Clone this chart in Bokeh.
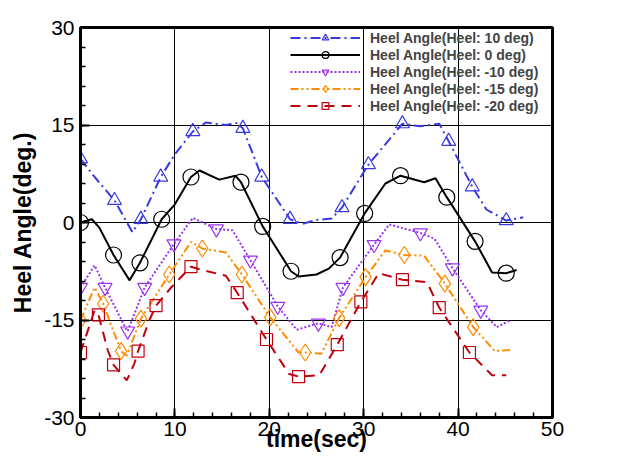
from bokeh.plotting import figure
from bokeh.models import Range1d, FixedTicker, CustomJSTickFormatter
from bokeh.embed import file_html
from bokeh.resources import INLINE

# ---- data ----
x_ticks = [0, 10, 20, 30, 40, 50]
y_ticks = [-30, -15, 0, 15, 30]

labels = ["Heel Angle(Heel: 10 deg)", "Heel Angle(Heel: 0 deg)", "Heel Angle(Heel: -10 deg)",
          "Heel Angle(Heel: -15 deg)", "Heel Angle(Heel: -20 deg)"]

t_h10 = [0, 1.5, 3.6, 5.5, 6.4, 8.5, 10, 11.9, 13.3, 15.4, 16.5, 17.2, 19.2, 22.2, 23.5, 25, 26.6,
         27.7, 30.5, 34.1, 36, 38, 39, 41.5, 43, 45.1, 46.9]
v_h10 = [9.8, 7.0, 3.4, -1.5, 0.5, 7.0, 10.5, 14.0, 15.4, 15.0, 15.3, 14.5, 7.0, 0.5, -0.2, 0.4, 0.6,
         2.3, 8.9, 15.2, 14.8, 15.2, 12.5, 5.5, 2.0, 0.3, 0.8]
mt_h10 = [0, 3.6, 6.4, 8.5, 11.9, 17.2, 19.2, 22.2, 27.7, 30.5, 34.1, 39, 41.5, 45.1]
mv_h10 = [9.8, 3.4, 0.5, 7.0, 14.0, 14.5, 7.0, 0.5, 2.3, 8.9, 15.2, 12.5, 5.5, 0.3]

t_h0 = [0, 1.2, 2.0, 3.5, 5.2, 6.3, 8.6, 10, 11.7, 12.6, 14.7, 16.4, 17, 19.3, 21, 22.3, 23.1, 25,
        26.3, 27.5, 30.1, 32.3, 33.9, 36.4, 37.6, 38.8, 41.8, 43.6, 45.1, 46.2]
v_h0 = [0, 0.5, -0.8, -5.0, -8.9, -6.2, 0.5, 2.8, 7.0, 8.0, 6.6, 7.2, 6.2, -0.6, -4.5, -7.5, -8.3, -8.0,
        -7.1, -5.4, 1.4, 6.0, 7.2, 6.2, 6.8, 3.9, -2.9, -7.7, -7.8, -7.3]
mt_h0 = [0, 3.5, 6.3, 8.6, 11.7, 17, 19.3, 22.3, 27.5, 30.1, 33.9, 38.8, 41.8, 45.1]
mv_h0 = [0, -5.0, -6.2, 0.5, 7.0, 6.2, -0.6, -7.5, -5.4, 1.4, 7.2, 3.9, -2.9, -7.8]

t_m10 = [0, 1.5, 2.6, 4.9, 5.0, 6.8, 9.9, 11.9, 14.4, 16.1, 18, 20.9, 22.9, 25.2, 26.6, 27.8, 31.1,
         32.7, 36, 37.5, 39.4, 42.4, 44.1, 45.6]
v_m10 = [-10, -6.6, -10, -16.6, -16.7, -10, -3.3, 0.7, -1.0, -1.2, -5.8, -12.9, -16.5, -15.5, -16.1,
         -10, -3.4, -0.3, -1.6, -2.5, -7.0, -13.5, -16.1, -15.0]
mt_m10 = [0, 2.6, 5.0, 6.8, 9.9, 14.4, 18, 20.9, 25.2, 27.8, 31.1, 36, 39.4, 42.4]
mv_m10 = [-10, -10, -16.7, -10, -3.3, -1.0, -5.8, -12.9, -15.5, -10, -3.4, -1.6, -7.0, -13.5]

t_m15 = [0, 1.5, 2.4, 4.3, 4.9, 6.4, 9.4, 11.7, 12.9, 15.4, 17.1, 20.1, 23.1, 23.8, 25.5, 27.4, 30.2,
         32.3, 34.3, 36.4, 38.6, 41.6, 43.9, 45.6]
v_m15 = [-15, -10, -12.5, -19.8, -20.5, -14.8, -8.0, -3.0, -4.0, -4.6, -8.0, -14.6, -20, -20, -20.2,
         -14.7, -8.4, -4.3, -5.0, -5.1, -9.4, -16.1, -19.8, -19.6]
mt_m15 = [0, 2.4, 4.3, 6.4, 9.4, 12.9, 17.1, 20.1, 23.8, 27.4, 30.2, 34.3, 38.6, 41.6]
mv_m15 = [-15, -12.5, -19.8, -14.8, -8.0, -4.0, -8.0, -14.6, -20, -14.7, -8.4, -5.0, -9.4, -16.1]

t_m20 = [0, 1.5, 1.9, 2.9, 3.5, 4.9, 5.7, 6.1, 7.3, 8, 9.6, 11.7, 12.9, 15.4, 16.6, 19.7, 22.1, 23.1,
         25.3, 27.2, 29.7, 31.6, 34.1, 36.7, 38, 41.2, 43.6, 45.1]
v_m20 = [-20, -13.5, -14.2, -19.7, -21.9, -24.3, -21.7, -19.8, -15.0, -12.8, -10.0, -6.8, -7.3, -8.2,
         -10.8, -18.0, -23.3, -23.7, -23.5, -18.8, -12.2, -7.8, -8.8, -9.2, -13.1, -20.0, -23.5, -23.5]
mt_m20 = [0, 1.9, 3.5, 6.1, 8, 11.7, 16.6, 19.7, 23.1, 27.2, 29.7, 34.1, 38, 41.2]
mv_m20 = [-20, -14.2, -21.9, -19.8, -12.8, -6.8, -10.8, -18.0, -23.7, -18.8, -12.2, -8.8, -13.1, -20.0]

p = figure(width=611, height=459, output_backend="svg", toolbar_location=None,
           x_range=Range1d(0, 50), y_range=Range1d(-30, 30),
           min_border_left=80, min_border_right=59, min_border_top=27, min_border_bottom=42)
p.background_fill_color = "white"
p.border_fill_color = "white"
p.outline_line_color = "black"
p.outline_line_width = 3

styles = [
    (t_h10, v_h10, mt_h10, mv_h10, "#3a3ae0", "10 4 2 4", "triangle", 14),
    (t_h0, v_h0, mt_h0, mv_h0, "black", "solid", "circle", 16),
    (t_m10, v_m10, mt_m10, mv_m10, "#9a32f0", "2 2", "inverted_triangle", 14),
    (t_m15, v_m15, mt_m15, mv_m15, "#ff8c00", "8 3 2 3 2 3", "diamond", 17),
    (t_m20, v_m20, mt_m20, mv_m20, "#c00010", "10 7", "square", 12),
]
for lab, (tx, vy, mx, my, col, dash, mk, sz) in zip(labels, styles):
    p.line(tx, vy, line_color=col, line_width=2, line_dash=dash, legend_label=lab)
    p.scatter(mx, my, marker=mk, size=sz, fill_alpha=0, line_color=col, line_width=1.2,
              legend_label=lab)

fmt = CustomJSTickFormatter(code="return tick.toString();")
for ax, ticks, minor in ((p.xaxis[0], x_ticks, list(range(0, 51, 2))),
                         (p.yaxis[0], y_ticks, list(range(-30, 31, 3)))):
    ax.ticker = FixedTicker(ticks=ticks, minor_ticks=minor)
    ax.formatter = fmt
    ax.axis_line_width = 3
    ax.axis_line_color = "black"
    ax.major_tick_in = 9
    ax.major_tick_out = 0
    ax.minor_tick_in = 5
    ax.minor_tick_out = 0
    ax.major_tick_line_width = 2
    ax.minor_tick_line_width = 1.5
    ax.major_label_text_font = "Liberation Sans"
    ax.major_label_text_font_size = "21px"
    ax.major_label_text_color = "black"
    ax.axis_label_text_font = "Liberation Sans"
    ax.axis_label_text_font_size = "23px"
    ax.axis_label_text_font_style = "bold"
    ax.axis_label_text_color = "black"

p.xaxis.axis_label = "time(sec)"
p.yaxis.axis_label = "Heel Angle(deg.)"
p.xaxis.major_label_standoff = 4
p.yaxis.major_label_standoff = 6
p.xaxis.axis_label_standoff = -13
p.yaxis.axis_label_standoff = 5

p.xgrid.grid_line_color = "black"
p.ygrid.grid_line_color = "black"
p.xgrid.grid_line_width = 1
p.ygrid.grid_line_width = 1

lg = p.legend[0]
lg.location = "top_right"
lg.background_fill_alpha = 0
lg.border_line_alpha = 0
lg.label_text_font = "Liberation Sans"
lg.label_text_font_style = "bold"
lg.label_text_font_size = "14px"
lg.glyph_width = 70
lg.glyph_height = 17
lg.label_height = 17
lg.label_width = 180
lg.spacing = 0
lg.padding = 1
lg.margin = 1
lg.label_standoff = 10

open("out.html", "w").write(file_html(p, INLINE))
